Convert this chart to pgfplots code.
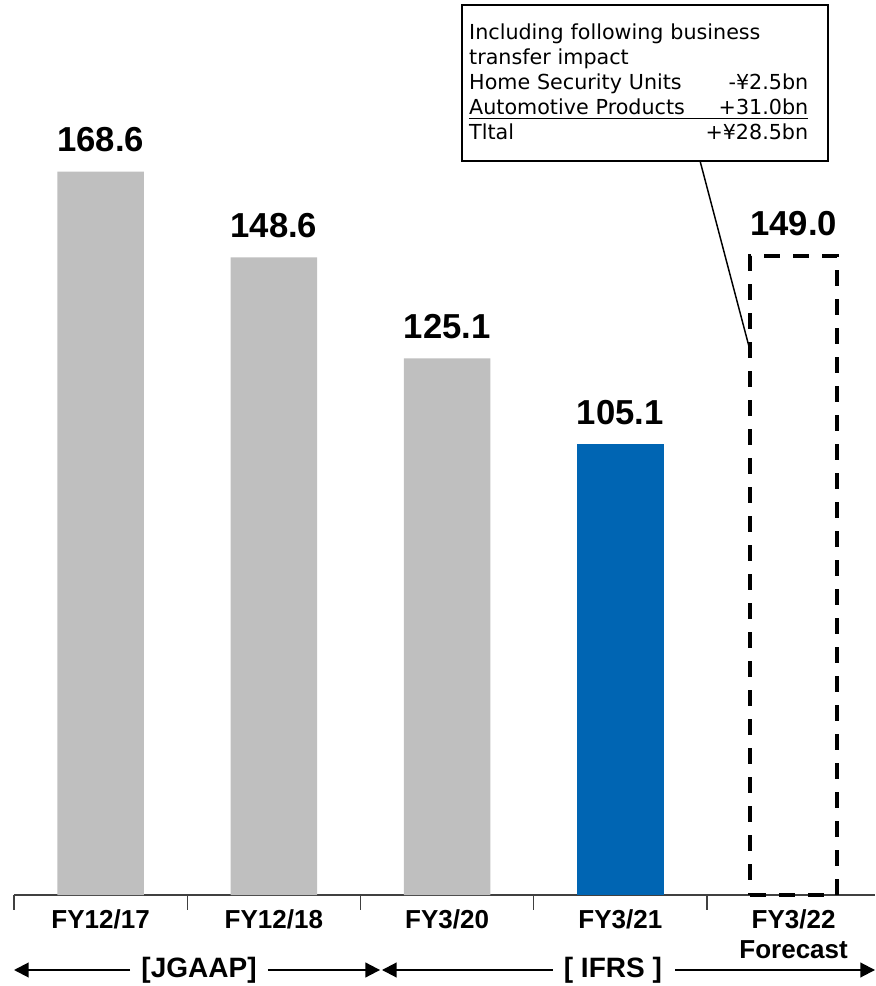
\documentclass[border=0pt]{standalone}
\usepackage{fontspec}
\setmainfont{Liberation Sans}
\newfontfamily\boxfont{DejaVu Sans}
\usepackage{pgfplots}
\pgfplotsset{compat=1.18}
\usetikzlibrary{arrows.meta}
\definecolor{bargray}{RGB}{191,191,191}
\definecolor{barblue}{RGB}{0,101,179}
\definecolor{axisgray}{RGB}{64,64,64}

\begin{document}
\begin{tikzpicture}
\begin{axis}[
    scale only axis,
    width=645.75pt, height=643.5pt,
    xmin=-0.5, xmax=4.47, ymin=0, ymax=200,
    hide y axis,
    axis x line=bottom,
    axis line style={-, axisgray, line width=1pt},
    xtick={0,1,2,3,4},
    xticklabels={FY12/17, FY12/18, FY3/20, FY3/21, {FY3/22\\Forecast}},
    xticklabel style={font=\bfseries\fontsize{19.5}{23}\selectfont, align=center,
        anchor=north, inner sep=0pt, yshift=-10.5pt},
    major tick length=0pt,
    minor xtick={-0.5,0.5,1.5,2.5,3.5},
    minor tick length=11pt,
    tick align=center,
    tick style={axisgray, line width=1pt},
    ybar, bar width=0.5,
    clip=false,
    /pgf/number format/assume math mode=true,
    nodes near coords={\pgfmathprintnumber[fixed,fixed zerofill,precision=1]{\pgfplotspointmeta}},
    nodes near coords style={font=\bfseries\fontsize{26}{30}\selectfont,
        anchor=base, inner sep=0pt, yshift=15pt, text=black},
]
% JGAAP years
\addplot[fill=bargray, draw=none, bar shift=0pt] coordinates {(0,168.6) (1,148.6) (2,125.1)};
% IFRS actual
\addplot[fill=barblue, draw=none, bar shift=0pt] coordinates {(3,105.1)};
% forecast
\addplot[fill=none, draw=black, line width=3pt, dash pattern=on 12pt off 9.75pt, bar shift=0pt]
    coordinates {(4,149.0)};

% callout
\draw[line width=1.5pt, fill=white] (axis cs:2.086,207.46) rectangle (axis cs:4.199,171.1);
\node[anchor=north west, inner sep=0pt, text width=254.25pt, align=left,
      font=\boxfont\fontsize{15.5}{18.75}\selectfont] at (axis cs:2.126,203.03) {%
    Including following business\\
    transfer impact\\
    \leavevmode\hbox to 254.25pt{Home Security Units\hfil -¥2.5bn}\\
    \leavevmode\hbox to 254.25pt{Automotive Products\hfil +31.0bn}\\
    \leavevmode\hbox to 254.25pt{Tltal\hfil +¥28.5bn}};
\draw[line width=0.75pt] (axis cs:2.126,181.1) -- (axis cs:4.083,181.1);
\draw[line width=1.1pt] (axis cs:3.460,171.1) -- (axis cs:3.748,127.0);

% accounting standard arrows
\draw[line width=1.5pt, -{Triangle[length=11pt,width=11pt]}] (axis cs:0.1696,-17.48) -- (axis cs:-0.5,-17.48);
\draw[line width=1.5pt, -{Triangle[length=11pt,width=11pt]}] (axis cs:0.966,-17.48) -- (axis cs:1.613,-17.48);
\draw[line width=1.5pt, -{Triangle[length=11pt,width=11pt]}] (axis cs:2.611,-17.48) -- (axis cs:1.624,-17.48);
\draw[line width=1.5pt, -{Triangle[length=11pt,width=11pt]}] (axis cs:3.316,-17.48) -- (axis cs:4.47,-17.48);
\node[font=\bfseries\fontsize{21}{24}\selectfont] at (axis cs:0.568,-17.48) {[JGAAP]};
\node[font=\bfseries\fontsize{21}{24}\selectfont] at (axis cs:2.957,-17.48) {[ IFRS ]};

\coordinate (bbsw) at (axis cs:-0.5808,-21.21);
\coordinate (bbne) at (axis cs:4.47,208.62);
\end{axis}
\pgfresetboundingbox
\useasboundingbox (bbsw) rectangle (bbne);
\end{tikzpicture}
\end{document}
